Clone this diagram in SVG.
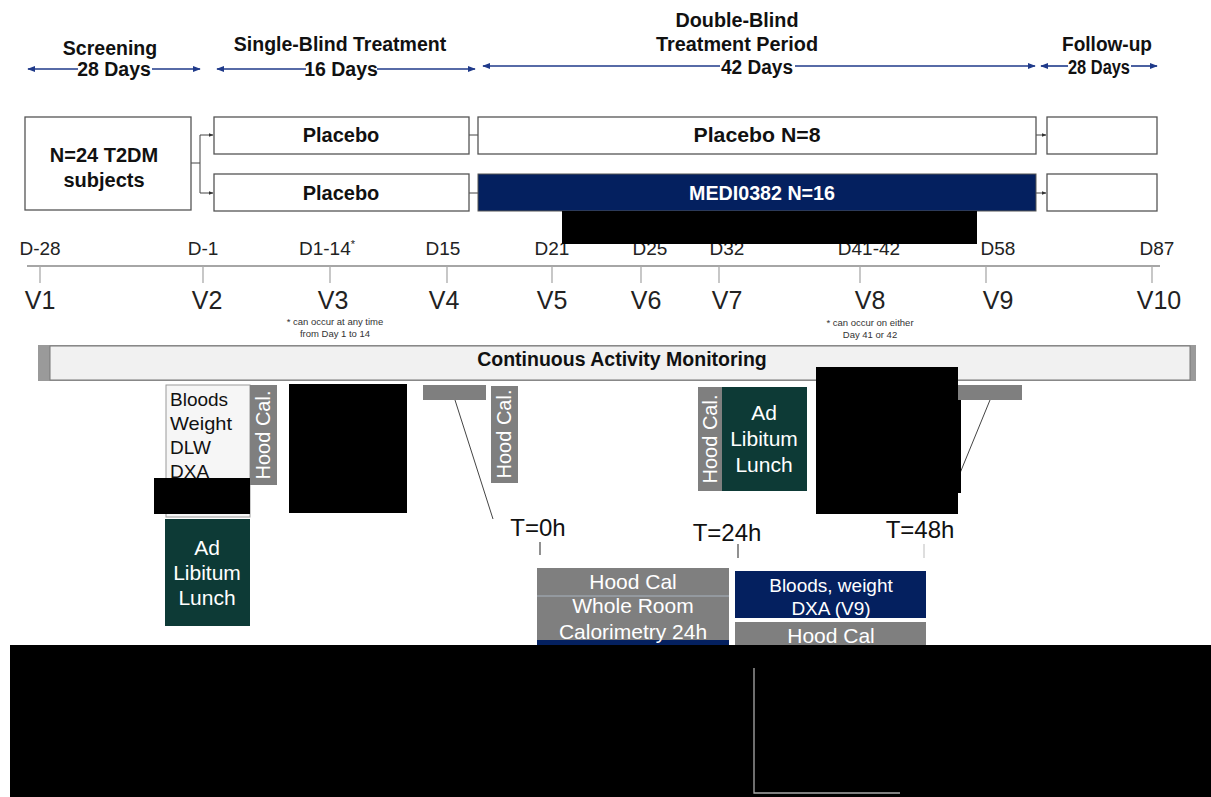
<svg xmlns="http://www.w3.org/2000/svg" width="1211" height="797" viewBox="0 0 1211 797">
<defs>
<marker id="ah" viewBox="0 0 10 10" refX="9" refY="5" markerWidth="5" markerHeight="5" orient="auto-start-reverse"><path d="M0,1 L10,5 L0,9 z" fill="#1f3a8a"/></marker>
<marker id="ak" viewBox="0 0 10 10" refX="9" refY="5" markerWidth="5" markerHeight="5" orient="auto"><path d="M0,1 L10,5 L0,9 z" fill="#333"/></marker>
<style>
text{font-family:"Liberation Sans",Arial,sans-serif;}
.hd{font-size:19.5px;font-weight:bold;fill:#111;text-anchor:middle;}
.per{stroke:#1f3a8a;stroke-width:1.6;fill:none;}
.box{fill:#fff;stroke:#555;stroke-width:1.3;}
.bt{font-size:20px;font-weight:bold;fill:#111;text-anchor:middle;}
.day{font-size:19px;fill:#222;text-anchor:middle;}
.vis{font-size:25px;fill:#222;text-anchor:middle;}
.note{font-size:9.5px;fill:#333;text-anchor:middle;}
.tick{stroke:#aaa;stroke-width:1.3;}
.gray{fill:#7f7f7f;}
.green{fill:#0d3a36;}
.navy{fill:#04205f;}
.wt{fill:#fff;font-size:21px;text-anchor:middle;}
.vt{fill:#fff;font-size:20px;text-anchor:middle;}
.lk{stroke:#444;stroke-width:1;fill:none;}
.red{fill:#000;}
</style>
</defs>
<rect width="1211" height="797" fill="#fff"/>

<g id="headers">
<text class="hd" x="110" y="55">Screening</text>
<text class="hd" x="114" y="76">28 Days</text>
<text class="hd" x="340" y="51">Single-Blind Treatment</text>
<text class="hd" x="341" y="76">16 Days</text>
<text class="hd" x="737" y="27" textLength="123" lengthAdjust="spacingAndGlyphs">Double-Blind</text>
<text class="hd" x="737" y="51" textLength="162" lengthAdjust="spacingAndGlyphs">Treatment Period</text>
<text class="hd" x="757" y="74" textLength="72" lengthAdjust="spacingAndGlyphs">42 Days</text>
<text class="hd" x="1107" y="51" textLength="90" lengthAdjust="spacingAndGlyphs">Follow-up</text>
<text class="hd" x="1099" y="74" textLength="62" lengthAdjust="spacingAndGlyphs">28 Days</text>
</g>

<g id="connectors">
<line class="per" x1="78" y1="69" x2="28" y2="69" marker-end="url(#ah)"/>
<line class="per" x1="152" y1="69" x2="200" y2="69" marker-end="url(#ah)"/>
<line class="per" x1="306" y1="69" x2="217" y2="69" marker-end="url(#ah)"/>
<line class="per" x1="377" y1="69" x2="475" y2="69" marker-end="url(#ah)"/>
<line class="per" x1="720" y1="66" x2="483" y2="66" marker-end="url(#ah)"/>
<line class="per" x1="795" y1="66" x2="1035" y2="66" marker-end="url(#ah)"/>
<line class="per" x1="1068" y1="66" x2="1041" y2="66" marker-end="url(#ah)"/>
<line class="per" x1="1131" y1="66" x2="1157" y2="66" marker-end="url(#ah)"/>
<path class="lk" d="M191,163 H200 M200,135 V193 H213" marker-end="url(#ak)"/>
<line class="lk" x1="200" y1="135" x2="213" y2="135" marker-end="url(#ak)"/>
<line class="lk" x1="469" y1="135" x2="478" y2="135"/>
<line class="lk" x1="469" y1="193" x2="478" y2="193"/>
<line class="lk" x1="1036" y1="135" x2="1046" y2="135" marker-end="url(#ak)"/>
<line class="lk" x1="1036" y1="193" x2="1046" y2="193" marker-end="url(#ak)"/>
<line class="lk" x1="455" y1="400" x2="493" y2="519"/>
<line class="lk" x1="990" y1="400" x2="958" y2="478"/>
</g>

<g id="subjects">
<rect class="box" x="25" y="117" width="166" height="93"/>
<text class="bt" x="104" y="162">N=24 T2DM</text>
<text class="bt" x="104" y="187">subjects</text>
</g>
<g id="placebo-sb-1">
<rect class="box" x="214" y="117" width="255" height="37"/>
<text class="bt" x="341" y="142">Placebo</text>
</g>
<g id="placebo-sb-2">
<rect class="box" x="214" y="174" width="255" height="37"/>
<text class="bt" x="341" y="200">Placebo</text>
</g>
<g id="placebo-db">
<rect class="box" x="478" y="117" width="558" height="37"/>
<text class="bt" x="757" y="142" textLength="127" lengthAdjust="spacingAndGlyphs">Placebo N=8</text>
</g>
<g id="medi">
<rect x="478" y="174" width="558" height="37" fill="#04205f" stroke="#555" stroke-width="1"/>
<text class="bt" x="762" y="200" style="fill:#fff" textLength="146" lengthAdjust="spacingAndGlyphs">MEDI0382 N=16</text>
</g>
<g id="fu-1"><rect class="box" x="1047" y="117" width="110" height="37"/></g>
<g id="fu-2"><rect class="box" x="1047" y="174" width="110" height="37"/></g>

<g id="timeline">
<line x1="27" y1="266" x2="1160" y2="266" stroke="#888" stroke-width="1.3"/>
<line class="tick" x1="40" y1="266" x2="40" y2="283"/>
<line class="tick" x1="203" y1="266" x2="203" y2="283"/>
<line class="tick" x1="330" y1="266" x2="330" y2="283"/>
<line class="tick" x1="447" y1="266" x2="447" y2="283"/>
<line class="tick" x1="552" y1="266" x2="552" y2="283"/>
<line class="tick" x1="641" y1="266" x2="641" y2="283"/>
<line class="tick" x1="719" y1="266" x2="719" y2="283"/>
<line class="tick" x1="860" y1="266" x2="860" y2="283"/>
<line class="tick" x1="986" y1="266" x2="986" y2="283"/>
<line class="tick" x1="1152" y1="266" x2="1152" y2="283"/>
<text class="day" x="40" y="255">D-28</text>
<text class="day" x="203" y="255">D-1</text>
<text class="day" x="327" y="255">D1-14<tspan font-size="11" dy="-7">*</tspan></text>
<text class="day" x="443" y="255">D15</text>
<text class="day" x="552" y="255">D21</text>
<text class="day" x="650" y="255">D25</text>
<text class="day" x="727" y="255">D32</text>
<text class="day" x="869" y="255">D41-42</text>
<text class="day" x="998" y="255">D58</text>
<text class="day" x="1157" y="255">D87</text>
<text class="vis" x="40" y="309">V1</text>
<text class="vis" x="207" y="309">V2</text>
<text class="vis" x="333" y="309">V3</text>
<text class="vis" x="444" y="309">V4</text>
<text class="vis" x="552" y="309">V5</text>
<text class="vis" x="646" y="309">V6</text>
<text class="vis" x="727" y="309">V7</text>
<text class="vis" x="870" y="309">V8</text>
<text class="vis" x="998" y="309">V9</text>
<text class="vis" x="1159" y="309">V10</text>
<text class="note" x="335" y="325">* can occur at any time</text>
<text class="note" x="335" y="337">from Day 1 to 14</text>
<text class="note" x="870" y="326">* can occur on either</text>
<text class="note" x="870" y="338">Day 41 or 42</text>
</g>

<g id="activity">
<rect x="38" y="345" width="1158" height="36" fill="#9a9a9a"/>
<rect x="50" y="346" width="1140" height="34" fill="#f1f1f1" stroke="#777" stroke-width="1"/>
<text x="622" y="366" font-size="19.5" font-weight="bold" fill="#111" text-anchor="middle">Continuous Activity Monitoring</text>
</g>

<g id="v2-measures">
<rect x="166" y="385" width="84" height="132" fill="#f6f6f6" stroke="#999" stroke-width="1"/>
<text x="170" y="406" font-size="19" fill="#111">Bloods</text>
<text x="170" y="430" font-size="19" fill="#111" textLength="62" lengthAdjust="spacingAndGlyphs">Weight</text>
<text x="170" y="454" font-size="19" fill="#111">DLW</text>
<text x="170" y="478" font-size="19" fill="#111">DXA</text>
</g>
<g id="v2-hood">
<rect class="gray" x="250" y="385" width="27" height="100"/>
<text class="vt" transform="translate(270,435) rotate(-90)">Hood Cal.</text>
</g>
<g id="v2-lunch">
<rect class="green" x="165" y="519" width="85" height="107"/>
<text class="wt" x="207" y="555">Ad</text>
<text class="wt" x="207" y="580">Libitum</text>
<text class="wt" x="207" y="605">Lunch</text>
</g>
<g id="v4-bar"><rect class="gray" x="423" y="385" width="63" height="15"/></g>
<g id="v4-hood">
<rect class="gray" x="491" y="386" width="27" height="97"/>
<text class="vt" transform="translate(511,434) rotate(-90)">Hood Cal.</text>
</g>
<g id="v7-hood">
<rect class="gray" x="698" y="387" width="24" height="104"/>
<text class="vt" transform="translate(717,439) rotate(-90)">Hood Cal.</text>
</g>
<g id="v7-lunch">
<rect class="green" x="722" y="387" width="85" height="104"/>
<text class="wt" x="764" y="420">Ad</text>
<text class="wt" x="764" y="446">Libitum</text>
<text class="wt" x="764" y="472">Lunch</text>
</g>
<g id="v9-bar"><rect class="gray" x="958" y="385" width="64" height="15"/></g>

<g id="times">
<text x="538" y="536" font-size="24" fill="#111" text-anchor="middle">T=0h</text>
<line x1="540" y1="542" x2="540" y2="555" stroke="#555" stroke-width="1.3"/>
<text x="727" y="541" font-size="24" fill="#111" text-anchor="middle">T=24h</text>
<line x1="738" y1="544" x2="738" y2="558" stroke="#555" stroke-width="1.3"/>
<text x="920" y="538" font-size="24" fill="#111" text-anchor="middle">T=48h</text>
<line x1="924" y1="544" x2="924" y2="558" stroke="#ccc" stroke-width="1.3"/>
</g>

<g id="wrc">
<rect class="gray" x="537" y="568" width="192" height="77"/>
<line x1="537" y1="596" x2="729" y2="596" stroke="#a9b4c0" stroke-width="1"/>
<rect class="navy" x="537" y="640" width="192" height="5"/>
<text class="wt" x="633" y="589">Hood Cal</text>
<text class="wt" x="633" y="613">Whole Room</text>
<text class="wt" x="633" y="639">Calorimetry 24h</text>
</g>
<g id="bloods-v9">
<rect class="navy" x="735" y="571" width="191" height="47"/>
<text x="831" y="592" font-size="19" fill="#fff" text-anchor="middle">Bloods, weight</text>
<text x="831" y="615" font-size="19" fill="#fff" text-anchor="middle">DXA (V9)</text>
</g>
<g id="hood-v9">
<rect class="gray" x="735" y="622" width="191" height="23"/>
<text class="wt" x="831" y="643">Hood Cal</text>
</g>

<g id="redactions">
<rect class="red" x="562" y="211" width="415" height="33"/>
<rect class="red" x="154" y="478" width="96" height="36"/>
<rect class="red" x="289" y="384" width="118" height="129"/>
<rect class="red" x="816" y="367" width="142" height="147"/>
<rect class="red" x="958" y="400" width="3" height="93"/>
<rect class="red" x="10" y="645" width="1201" height="152"/>
<path d="M754,668 V793 H900" fill="none" stroke="#aaa" stroke-width="1.3"/>
</g>
</svg>
